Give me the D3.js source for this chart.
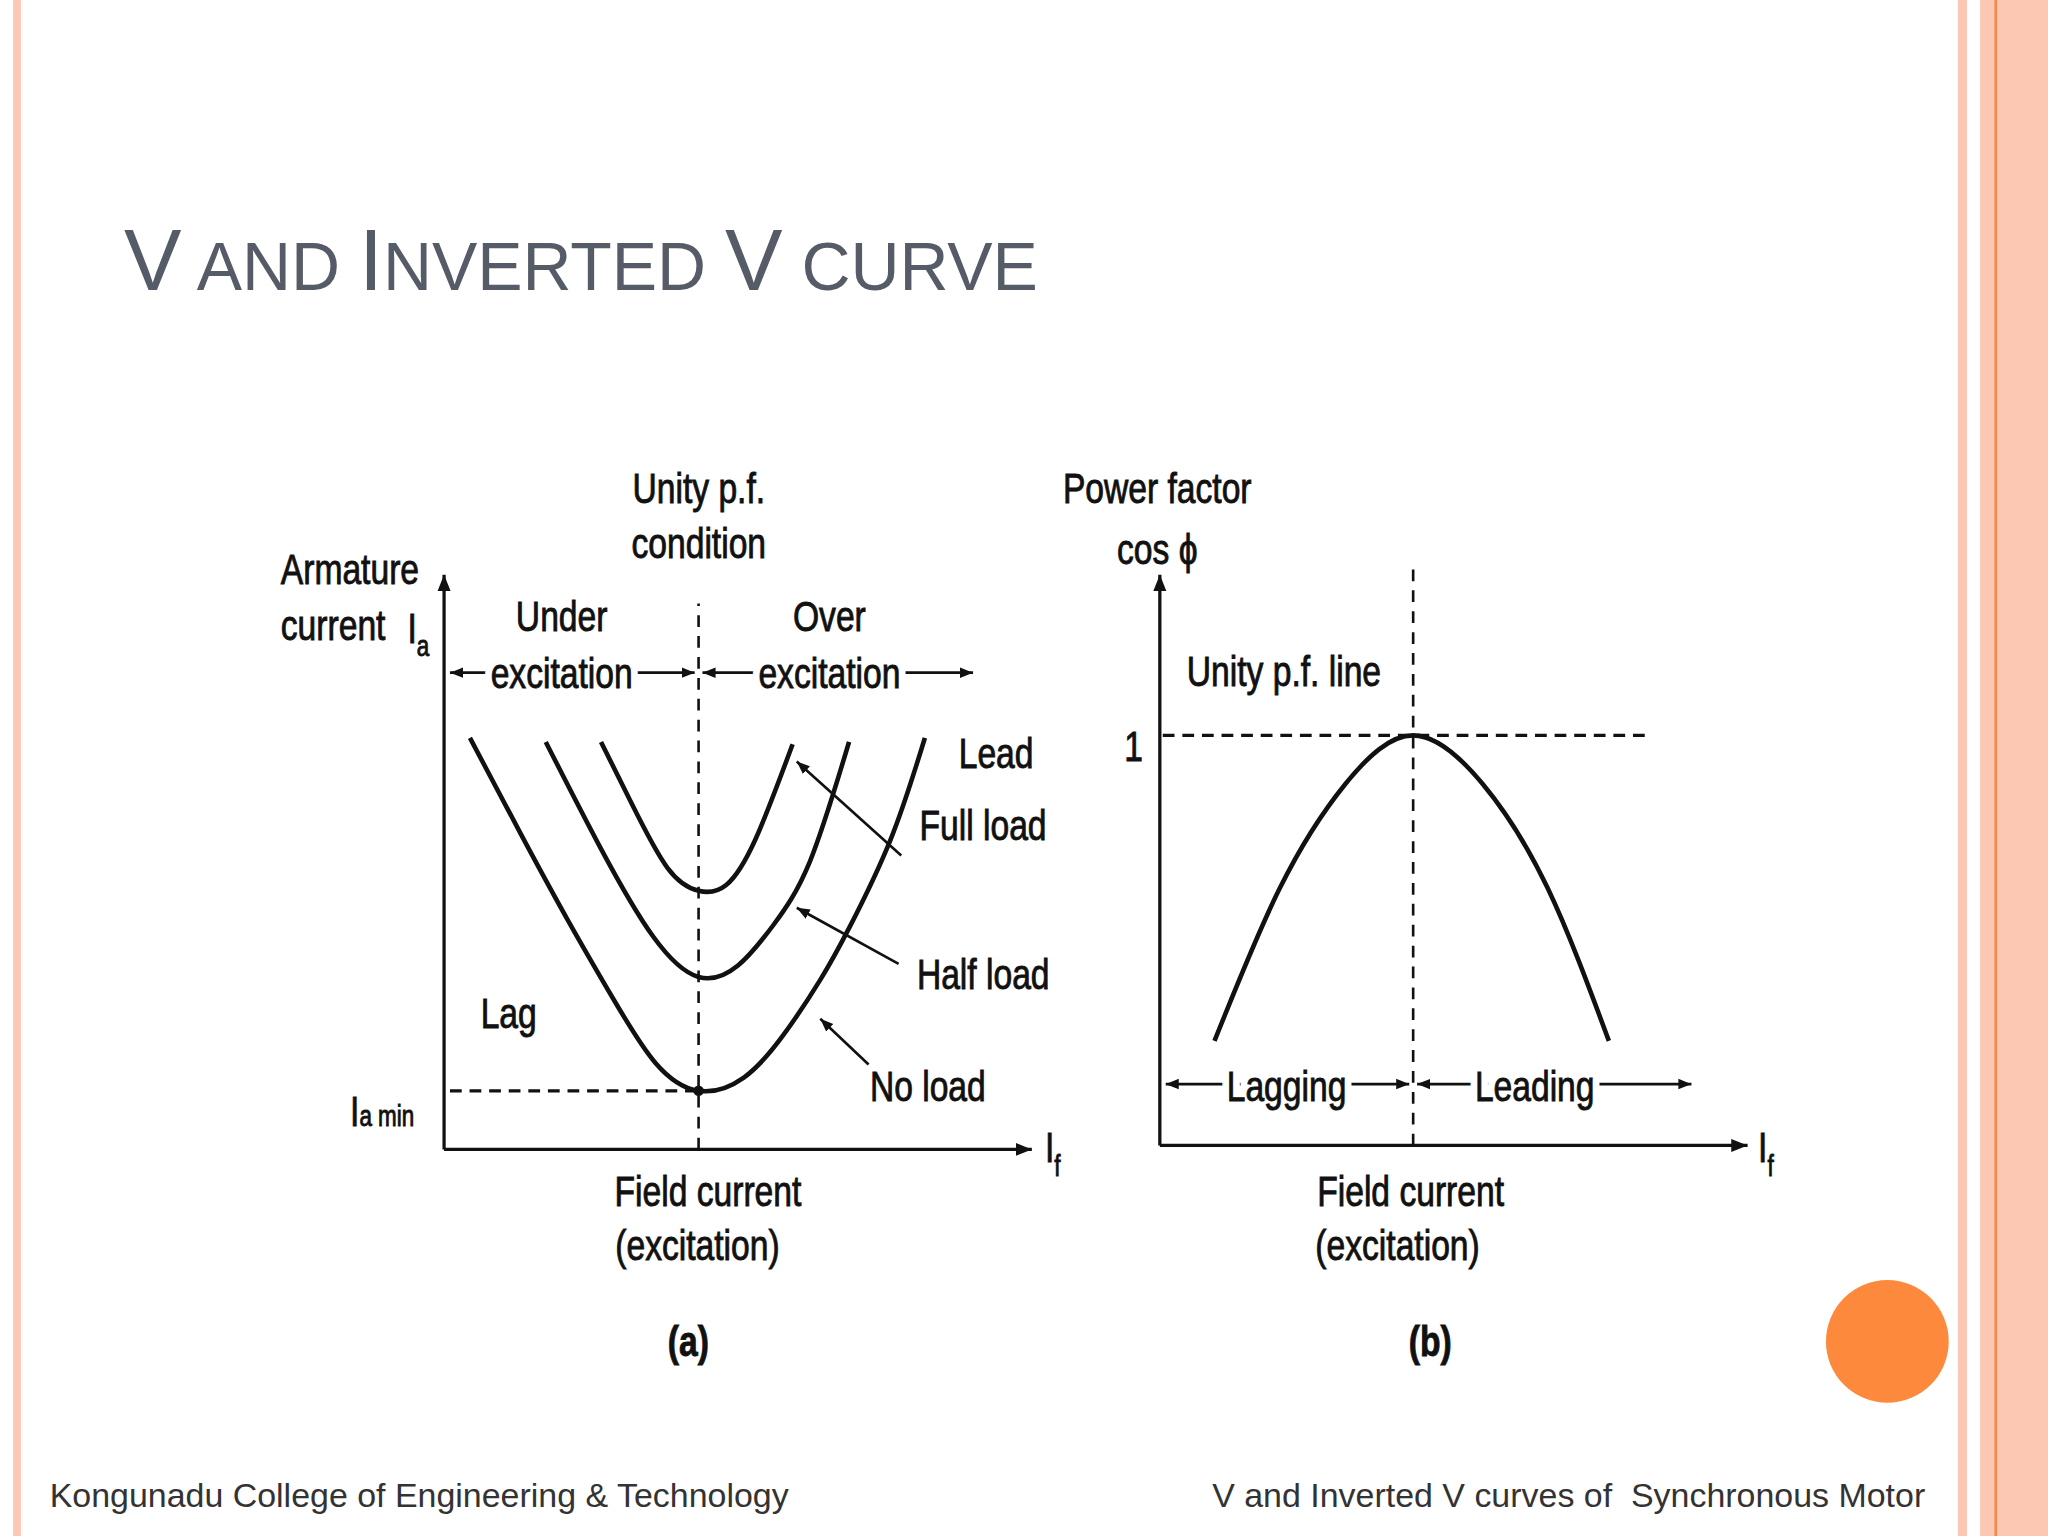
<!DOCTYPE html>
<html><head><meta charset="utf-8">
<script src="https://cdn.jsdelivr.net/npm/d3@7"></script>
<style>body{margin:0;background:#fff}svg{display:block}</style>
</head><body>
<script>
// V curves (a): field current units vs armature current units
var noLoad   = [[0.44,7.16],[1.3,5.5],[2.1,4.0],[2.89,2.6],[3.6,1.5],[4.33,1.02],[5.1,1.25],[5.78,2.0],[6.4,2.95],[6.89,3.85],[7.6,5.4],[8.18,7.16]];
var halfLoad = [[1.73,7.09],[2.67,5.23],[3.56,3.7],[4.33,3.0],[5.0,3.2],[5.6,3.9],[6.22,5.0],[6.89,7.09]];
var fullLoad = [[2.67,7.09],[3.2,6.0],[3.8,4.9],[4.33,4.5],[4.8,4.6],[5.3,5.4],[5.93,7.05]];
var unityIf = 4.33, iaMin = 1.02;
// inverted V (b): power factor
var pfCurve = [[0.93,0.255],[2.04,0.627],[3.16,0.882],[4.31,1],[5.49,0.882],[6.6,0.627],[7.64,0.255]];
var pfUnityIf = 4.31;

var svg = d3.select('body').append('svg').attr('width',2048).attr('height',1536).attr('viewBox','0 0 1568 1176');
var defs = svg.append('defs');
defs.append('marker').attr('id','ar').attr('viewBox','0 0 10 10').attr('refX',10).attr('refY',5)
  .attr('markerWidth',5).attr('markerHeight',5).attr('orient','auto-start-reverse')
  .append('path').attr('d','M0,1L10,5L0,9z').attr('fill','#111');

// slide decoration
svg.append('rect').attr('x',10).attr('y',0).attr('width',6).attr('height',1176).attr('fill','#fcc8b4');
svg.append('rect').attr('x',1499).attr('y',0).attr('width',7).attr('height',1176).attr('fill','#fcc8b4');
svg.append('rect').attr('x',1516).attr('y',0).attr('width',52).attr('height',1176).attr('fill','#fcc8b4');
svg.append('rect').attr('x',1527).attr('y',0).attr('width',2).attr('height',1176).attr('fill','#f08a4c');
svg.append('circle').attr('cx',1445).attr('cy',1027).attr('r',47).attr('fill','#fd8a3c');

var title = svg.append('text').attr('x',95).attr('y',222).attr('fill','#565b68')
  .attr('font-family','Liberation Sans, Arial, sans-serif');
[['V',66],[' AND ',52],['I',66],['NVERTED ',52],['V',66],[' CURVE',52]].forEach(function(p){
  title.append('tspan').attr('font-size',p[1]).text(p[0]);
});
svg.append('text').attr('x',38).attr('y',1154).attr('font-size',26).attr('fill','#333')
  .attr('font-family','Liberation Sans, Arial, sans-serif').text('Kongunadu College of Engineering & Technology');
svg.append('text').attr('x',1474).attr('y',1154).attr('font-size',26).attr('fill','#333').attr('text-anchor','end')
  .attr('font-family','Liberation Sans, Arial, sans-serif').attr('xml:space','preserve').text('V and Inverted V curves of  Synchronous Motor');

var FONT = 'Liberation Sans, Arial, sans-serif';
function txt(x,y,s,opt){
  opt = opt||{};
  var t = svg.append('text').attr('transform','translate('+x+','+y+') scale(0.78,1)').attr('font-family',FONT)
    .attr('font-size',opt.size||33).attr('fill','#111').attr('text-anchor',opt.anchor||'middle')
    .attr('font-weight',opt.weight||'normal').attr('stroke','#111').attr('stroke-width',0.7);
  if(opt.halo){
    // white backing so the arrow line stops at the text
    svg.insert('text',function(){return t.node();}).attr('transform','translate('+x+','+y+') scale(0.78,1)')
      .attr('font-family',FONT).attr('font-size',opt.size||33).attr('text-anchor',opt.anchor||'middle')
      .attr('fill','#fff').attr('stroke','#fff').attr('stroke-width',14).attr('stroke-linejoin','round').text(s);
  }
  t.text(s); return t;
}
function line(x1,y1,x2,y2,o){
  o=o||{};
  var l = svg.append('line').attr('x1',x1).attr('y1',y1).attr('x2',x2).attr('y2',y2)
    .attr('stroke','#111').attr('stroke-width',o.w||2.5);
  if(o.dash) l.attr('stroke-dasharray',o.dash);
  if(o.end) l.attr('marker-end','url(#ar)');
  if(o.start) l.attr('marker-start','url(#ar)');
  return l;
}

// ---- chart (a)
var xa = d3.scaleLinear().domain([0,10]).range([340,790]);
var ya = d3.scaleLinear().domain([0,10]).range([880,440]);
var lineA = d3.line().x(function(d){return xa(d[0]);}).y(function(d){return ya(d[1]);}).curve(d3.curveNatural);
line(xa(0),ya(0),xa(10),ya(0),{end:1});
line(xa(0),ya(0),xa(0),ya(10),{end:1});
line(xa(unityIf),ya(0),xa(unityIf),ya(9.5),{dash:'9,7',w:2});
line(xa(0.1),ya(iaMin),xa(unityIf),ya(iaMin),{dash:'9,6',w:2.5});
[noLoad,halfLoad,fullLoad].forEach(function(c){
  svg.append('path').attr('d',lineA(c)).attr('fill','none').attr('stroke','#111').attr('stroke-width',3.5);
});
svg.append('circle').attr('cx',xa(unityIf)).attr('cy',ya(iaMin)).attr('r',4).attr('fill','#111');
line(xa(0.1),515,xa(unityIf)-3,515,{start:1,end:1,w:2});
line(xa(unityIf)+3,515,745,515,{start:1,end:1,w:2});
txt(312,492,'I',{anchor:'start'}).append('tspan').attr('font-size',22).attr('dy',10).text('a');
txt(215,447,'Armature',{anchor:'start'});
txt(215,490,'current',{anchor:'start'});
txt(535,385,'Unity p.f.');
txt(535,427,'condition');
txt(430,483,'Under');
txt(430,527,'excitation',{halo:1});
txt(635,483,'Over');
txt(635,527,'excitation',{halo:1});
txt(734,588,'Lead',{anchor:'start'});
txt(704,643,'Full load',{anchor:'start'});
txt(702,757,'Half load',{anchor:'start'});
txt(666,843,'No load',{anchor:'start'});
txt(368,787,'Lag',{anchor:'start'});
line(690,655,610,583,{end:1,w:2});
line(688,738,610,695,{end:1,w:2});
line(665,815,628,780,{end:1,w:2});
txt(268,862,'I',{anchor:'start'}).append('tspan').attr('font-size',22).attr('dy',0).text('a min');
txt(800,890,'I',{anchor:'start'}).append('tspan').attr('font-size',22).attr('dy',10).text('f');
txt(542,923,'Field current');
txt(534,965,'(excitation)');
txt(527,1038,'(a)',{weight:'bold'});

// ---- chart (b)
var xb = d3.scaleLinear().domain([0,10]).range([888,1338]);
var yb = d3.scaleLinear().domain([0,1]).range([877,563]);
var lineB = d3.line().x(function(d){return xb(d[0]);}).y(function(d){return yb(d[1]);}).curve(d3.curveNatural);
line(xb(0),yb(0),xb(10),yb(0),{end:1});
line(xb(0),yb(0),xb(0),440,{end:1});
line(xb(pfUnityIf),yb(0),xb(pfUnityIf),435,{dash:'9,7',w:2});
line(xb(0.05),yb(1),1260,yb(1),{dash:'9,6',w:2.5});
svg.append('path').attr('d',lineB(pfCurve)).attr('fill','none').attr('stroke','#111').attr('stroke-width',3.5);
line(xb(0.1),830,xb(pfUnityIf)-3,830,{start:1,end:1,w:2});
line(xb(pfUnityIf)+3,830,1295,830,{start:1,end:1,w:2});
txt(886,385,'Power factor');
txt(886,432,'cos \u03d5');
txt(983,525,'Unity p.f. line');
txt(868,583,'1');
txt(985,843,'Lagging',{halo:1});
txt(1175,843,'Leading',{halo:1});
txt(1346,890,'I',{anchor:'start'}).append('tspan').attr('font-size',22).attr('dy',10).text('f');
txt(1080,923,'Field current');
txt(1070,965,'(excitation)');
txt(1095,1038,'(b)',{weight:'bold'});
</script>
</body></html>
